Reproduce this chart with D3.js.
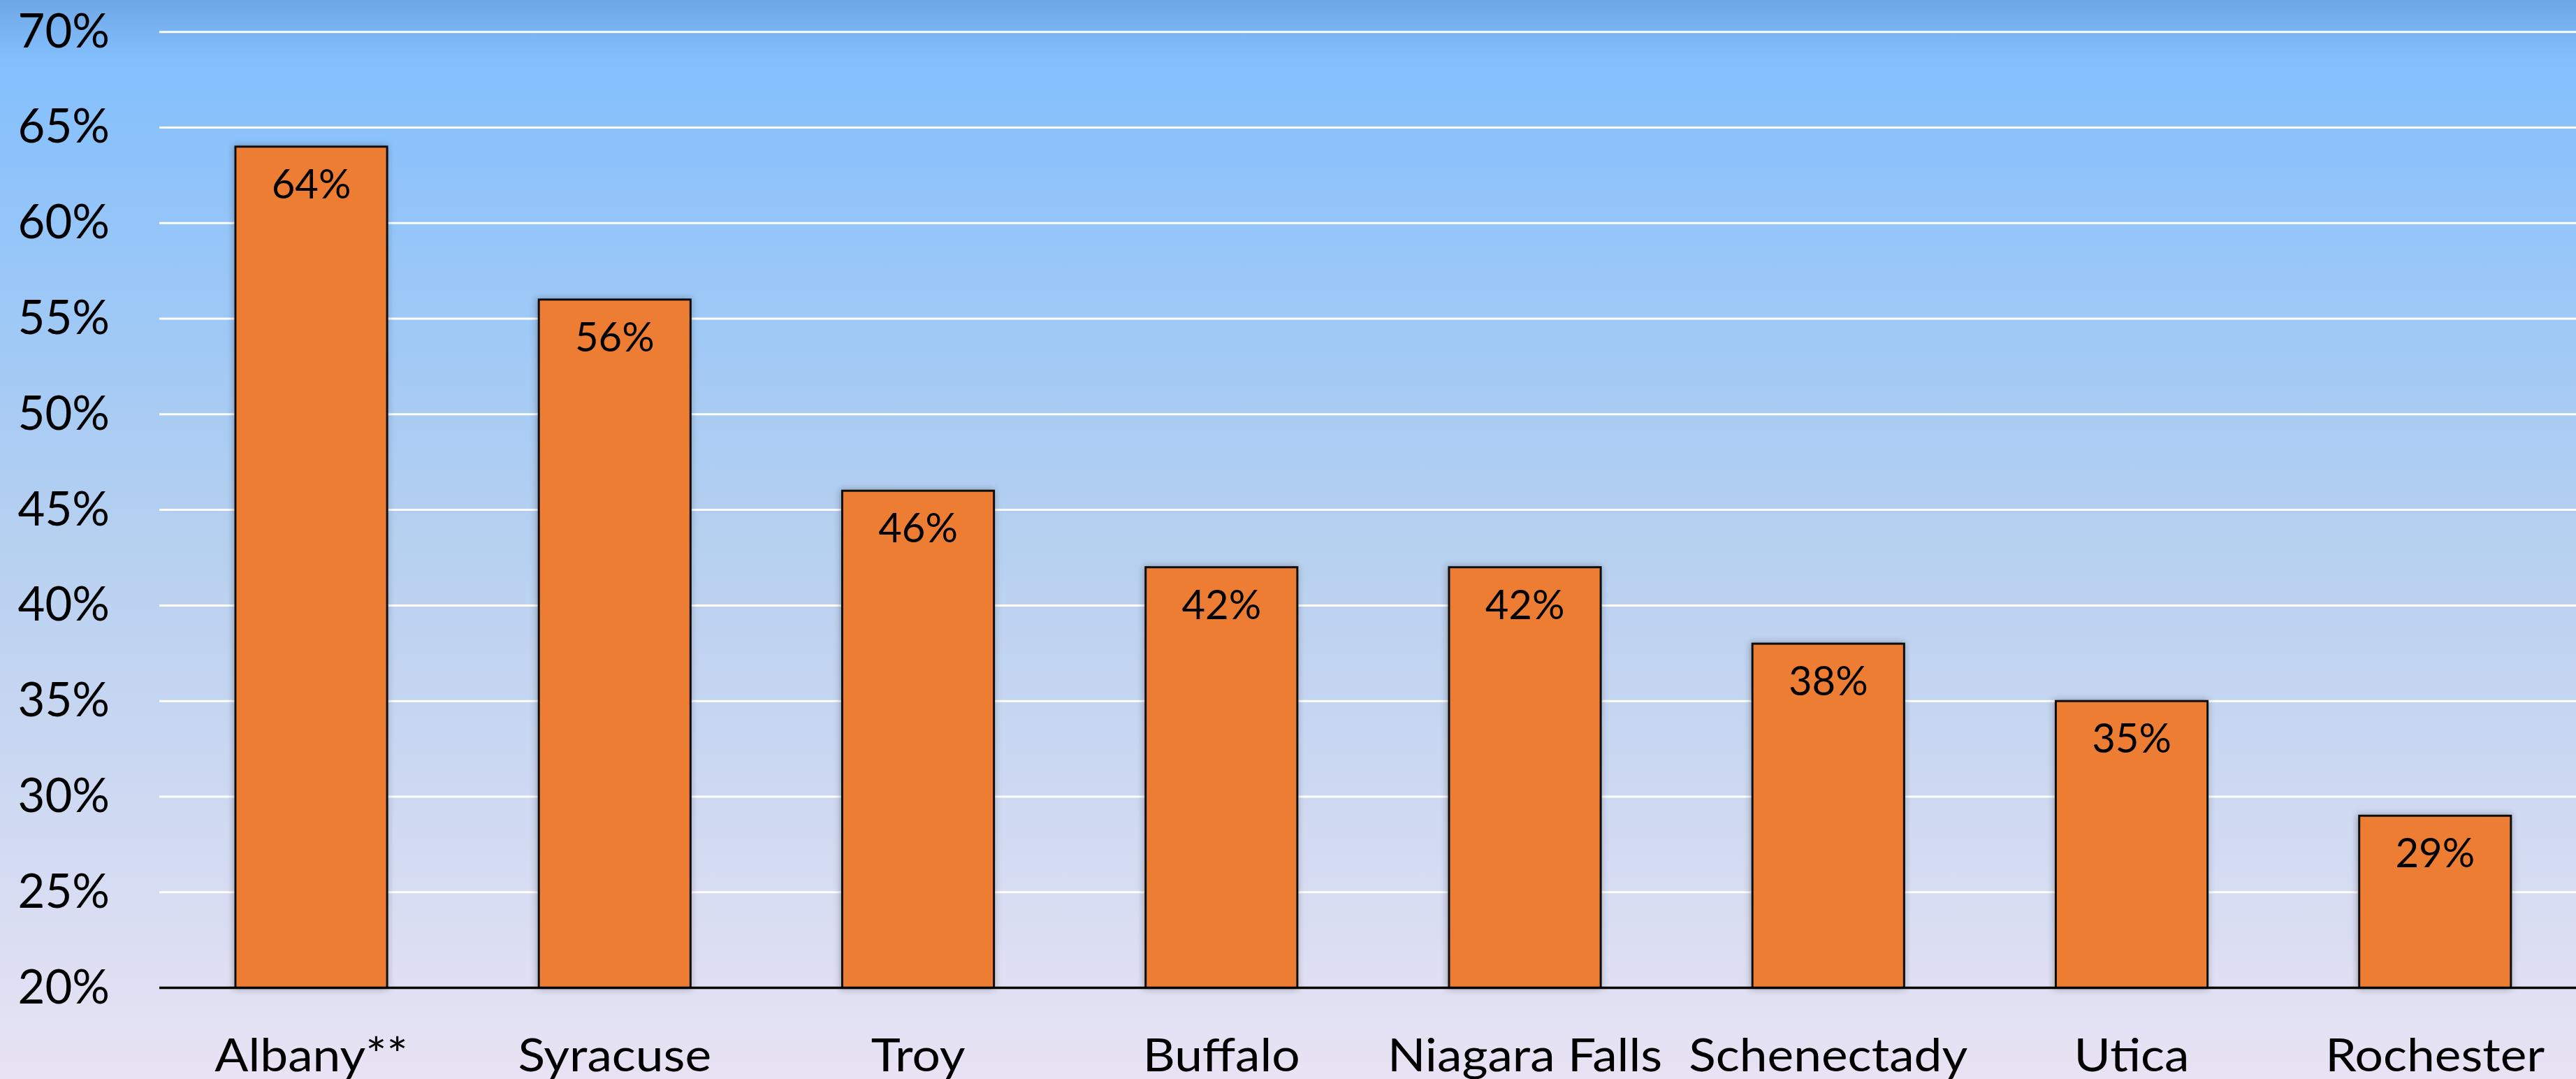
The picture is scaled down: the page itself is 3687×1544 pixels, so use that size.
<!DOCTYPE html>
<html>
<head>
<meta charset="utf-8">
<script src="https://cdn.jsdelivr.net/npm/d3@7"></script>
<style>
  html, body { margin: 0; padding: 0; overflow: hidden; }
  svg { display: block; }
</style>
</head>
<body>
<div id="chart"></div>
<script>
// data
const cities = ["Albany**", "Syracuse", "Troy", "Buffalo", "Niagara Falls", "Schenectady", "Utica", "Rochester"];
const shares = [0.64, 0.56, 0.46, 0.42, 0.42, 0.38, 0.35, 0.29];
const yTicks = [0.20, 0.25, 0.30, 0.35, 0.40, 0.45, 0.50, 0.55, 0.60, 0.65, 0.70];

const W = 3687, H = 1544;
const gridLeft = 228;
const fontFam = "Lato, 'Open Sans', sans-serif";

const svg = d3.select("#chart").append("svg")
  .attr("width", W)
  .attr("height", H);

const defs = svg.append("defs");
const grad = defs.append("linearGradient")
  .attr("id", "bg")
  .attr("x1", 0).attr("y1", 0).attr("x2", 0).attr("y2", 1);
grad.append("stop").attr("offset", "0").attr("stop-color", "#6ea7e5");
grad.append("stop").attr("offset", "0.055").attr("stop-color", "#84bffd");
grad.append("stop").attr("offset", "0.1").attr("stop-color", "#88c1fc");
grad.append("stop").attr("offset", "0.5").attr("stop-color", "#b6d0f0");
grad.append("stop").attr("offset", "1").attr("stop-color", "#e8e3f4");

// the soft grey glow round each bar
const shadow = defs.append("filter")
  .attr("id", "shadow")
  .attr("x", "-20%").attr("y", "-10%").attr("width", "140%").attr("height", "120%");
shadow.append("feDropShadow")
  .attr("dx", -1).attr("dy", 0)
  .attr("stdDeviation", 5)
  .attr("flood-color", "#333")
  .attr("flood-opacity", 0.4);

svg.append("rect")
  .attr("width", W).attr("height", H)
  .attr("fill", "url(#bg)");

// scales (plot runs a little past the right edge of the picture)
const x = d3.scaleBand()
  .domain(cities)
  .range([228.4, 3702.4])
  .paddingInner(0.5)
  .paddingOuter(0.25);

const y = d3.scaleLinear()
  .domain([0.2, 0.7])
  .range([1413.5, 45.7]);

// gridlines
svg.append("g")
  .selectAll("line")
  .data(yTicks.filter(d => d > 0.2))
  .enter().append("line")
  .attr("x1", gridLeft).attr("x2", W)
  .attr("y1", d => y(d)).attr("y2", d => y(d))
  .attr("stroke", "#ffffff")
  .attr("stroke-width", 3);

// y labels
svg.append("g")
  .selectAll("text")
  .data(yTicks)
  .enter().append("text")
  .attr("x", 157)
  .attr("y", d => y(d) + 22)
  .attr("text-anchor", "end")
  .style("font-family", fontFam)
  .style("font-size", "67px")
  .style("fill", "#000")
  .text(d => d3.format(".0%")(d));

// bars
svg.append("g")
  .selectAll("rect")
  .data(shares)
  .enter().append("rect")
  .attr("x", (d, i) => x(cities[i]))
  .attr("y", d => y(d))
  .attr("width", x.bandwidth())
  .attr("height", d => y(0.2) - y(d))
  .attr("fill", "#ed7d31")
  .attr("stroke", "#111")
  .attr("stroke-width", 3)
  .attr("filter", "url(#shadow)");

// bar value labels
svg.append("g")
  .selectAll("text")
  .data(shares)
  .enter().append("text")
  .attr("x", (d, i) => x(cities[i]) + x.bandwidth() / 2)
  .attr("y", d => y(d) + 74)
  .attr("text-anchor", "middle")
  .style("font-family", fontFam)
  .style("font-size", "58px")
  .style("fill", "#000")
  .text(d => d3.format(".0%")(d));

// x axis line
svg.append("line")
  .attr("x1", gridLeft).attr("x2", W)
  .attr("y1", y(0.2)).attr("y2", y(0.2))
  .attr("stroke", "#000")
  .attr("stroke-width", 3.5);

// category labels, cut by the bottom edge as in the picture
svg.append("g")
  .selectAll("text")
  .data(cities)
  .enter().append("text")
  .attr("transform", d => "translate(" + (x(d) + x.bandwidth() / 2) + ",1533) scale(1.08,1)")
  .attr("text-anchor", "middle")
  .style("font-family", fontFam)
  .style("font-size", "66px")
  .style("fill", "#000")
  .text(d => d);
</script>
</body>
</html>
